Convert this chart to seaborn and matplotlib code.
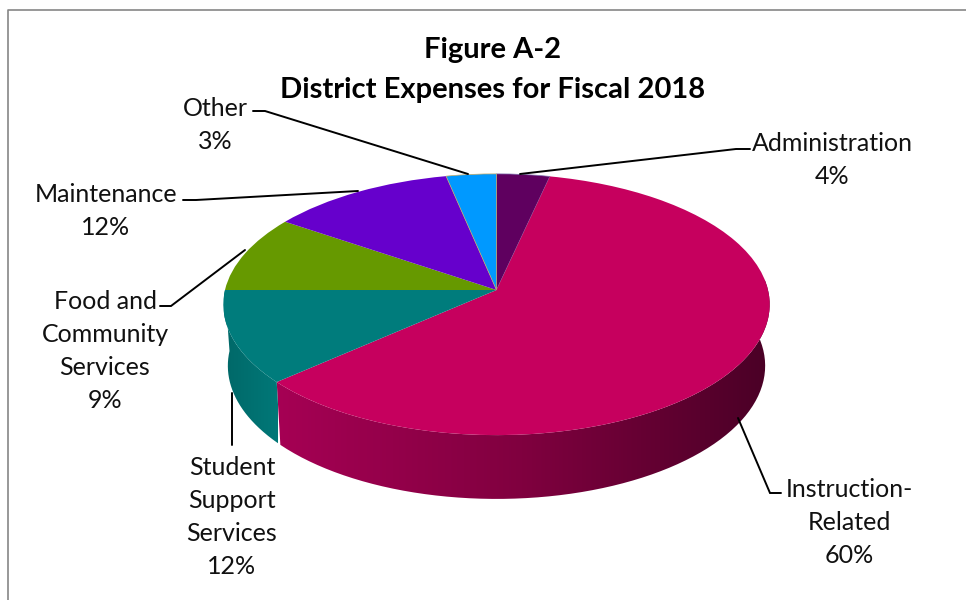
import numpy as np
import matplotlib
matplotlib.use("Agg")
import matplotlib.pyplot as plt
import seaborn as sns
from matplotlib.path import Path
from matplotlib.patches import PathPatch
from matplotlib.transforms import Transform

# === Chart data (clockwise from 12 o'clock) ===
categories = ["Administration", "Instruction-\nRelated", "Student\nSupport\nServices",
              "Food and\nCommunity\nServices", "Maintenance", "Other"]
shares = [3.5, 60.0, 11.5, 9.5, 12.2, 3.3]
share_labels = ["4%", "60%", "12%", "9%", "12%", "3%"]
slice_colors = ["#5F005F", "#C6005E", "#007C7C", "#669900", "#6600CC", "#0099FF"]
title_lines = ["Figure A-2", "District Expenses for Fiscal 2018"]


class Tilt(Transform):
    """Excel style 3D tilt: unit pie -> picture pixels, far side is squeezed."""
    input_dims = 2
    output_dims = 2
    is_separable = False
    has_inverse = False

    def __init__(self, cx, cy, a, b, k=0.111):
        super().__init__()
        self.cx, self.cy, self.a, self.b, self.k = cx, cy, a, b, k

    def transform_non_affine(self, values):
        values = np.asarray(values)
        w = 1 + self.k * values[:, 1]
        return np.column_stack([self.cx + self.a * values[:, 0] / w,
                                self.cy - self.b * values[:, 1] / w])


sns.set_theme(style="white")
plt.rcParams["font.family"] = ["Lato", "DejaVu Sans"]

fig = plt.figure(figsize=(9.66, 6.0), dpi=100)
ax = fig.add_axes([0, 0, 1, 1])

# === Top of the pie ===
top = Tilt(496.5, 290, 271.5, 129)
bottom = Tilt(496.5, 351, 267, 131.5)
wedges, _ = ax.pie(shares, colors=sns.color_palette(slice_colors), startangle=90,
                   counterclock=False, radius=1, normalize=True,
                   wedgeprops={"linewidth": 0, "edgecolor": "none"})
for w in wedges:
    w.set_transform(top + ax.transData)
    w.set_zorder(3)
wedges[0].set(edgecolor="#7F6FB0", linewidth=0.5)
wedges[5].set(edgecolor="#C8A860", linewidth=0.5)

ax.set_aspect("auto")

# === Side wall, only the two front slices show ===
walls = {1: ["#A60054", "#80003F", "#4A0026"], 2: ["#006868", "#007878"]}
edges = np.cumsum([0] + shares) / sum(shares) * 2 * np.pi
for i, shades in walls.items():
    ang = np.linspace(edges[i], edges[i + 1], 200)
    rim = np.column_stack([np.sin(ang), np.cos(ang)])
    outline = np.vstack([top.transform_non_affine(rim),
                         bottom.transform_non_affine(rim)[::-1]])
    cmap = sns.blend_palette(shades, n_colors=256, as_cmap=True)
    x0, x1 = (275, 770) if i == 1 else (224, 278)
    img = ax.imshow(np.linspace(0, 1, 256)[None, :], cmap=cmap, aspect="auto",
                    extent=(x0, x1, 505, 280), zorder=2)
    img.set_clip_path(PathPatch(Path(outline), transform=ax.transData))

ax.set_xlim(0, 966)
ax.set_ylim(600, 0)
ax.axis("off")

# === Labels and leader lines ===
label_pos = [(832, 132), (849, 478), (232, 456), (105, 290), (106, 183), (215, 97)]
leaders = [[(750, 149), (736, 149), (520, 174)],
           [(738, 418), (770, 493), (781, 493)],
           [(232, 445), (232, 393)],
           [(160, 306), (171, 306), (245, 250)],
           [(183, 200), (196, 200), (358, 191)],
           [(253, 111), (265, 111), (468, 174)]]
for name, pct, pos, line in zip(categories, share_labels, label_pos, leaders):
    ax.text(pos[0], pos[1], name + "\n" + pct, ha="center", va="top", fontsize=18,
            color="#111111", linespacing=1.53, zorder=5)
    ax.plot(*zip(*line), color="black", lw=1.4, solid_joinstyle="miter", zorder=4)

ax.text(493, 50, title_lines[0], ha="center", va="center", fontsize=21,
        fontweight="bold", color="black")
ax.text(493, 90, title_lines[1], ha="center", va="center", fontsize=21,
        fontweight="bold", color="black")

# chart border
ax.plot([7.5, 7.5, 966], [600, 9.5, 9.5], color="#868686", lw=1.2, zorder=1)

fig.savefig("out.png", dpi=100, facecolor="white")
